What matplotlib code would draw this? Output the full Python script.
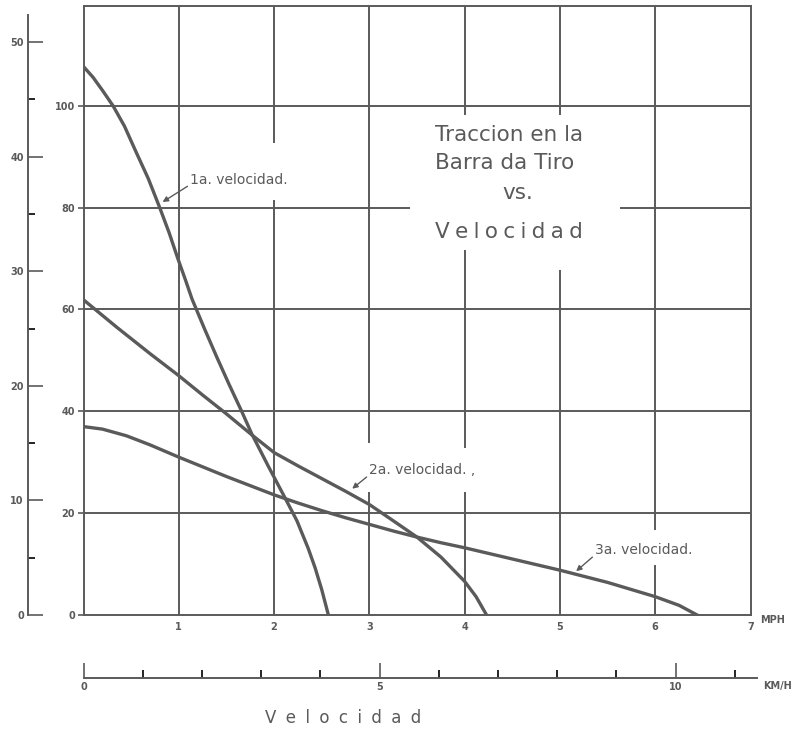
import numpy as np
import matplotlib.pyplot as plt

# Traccion en la barra de tiro vs velocidad (three gears)
ink = '#5a5a5a'

v1 = [0, 0.1, 0.2, 0.31, 0.43, 0.55, 0.68, 0.80, 0.90, 0.99, 1.07, 1.14, 1.27, 1.40,
      1.53, 1.66, 1.765, 1.94, 2.115, 2.24, 2.36, 2.43, 2.50, 2.57]
f1 = [107.7, 105.6, 103.0, 100, 96, 91, 85.7, 80, 75, 70, 65.8, 62, 56.2, 50.6,
      45.2, 40, 35.6, 29.2, 23, 18.5, 13, 9.3, 5, 0]

v2 = [0, 0.35, 0.70, 1.0, 1.25, 1.5, 1.765, 2.0, 2.25, 2.5, 2.75, 3.0, 3.22, 3.5,
      3.75, 4.0, 4.12, 4.23]
f2 = [61.9, 56.5, 51.3, 47, 43.2, 39.5, 35.4, 31.9, 29.3, 26.8, 24.3, 21.7, 18.9, 15.3,
      11.4, 6.6, 3.6, 0]

v3 = [0, 0.2, 0.45, 0.7, 1.0, 1.25, 1.5, 1.75, 2.0, 2.25, 2.5, 2.75, 3.0, 3.25, 3.5,
      3.75, 4.0, 4.5, 5.0, 5.5, 6.0, 6.25, 6.44]
f3 = [37, 36.5, 35.2, 33.4, 31, 29.1, 27.2, 25.4, 23.6, 22, 20.5, 19.1, 17.8, 16.5, 15.3,
      14.2, 13.2, 11, 8.8, 6.4, 3.6, 1.9, 0]

labels = ['1a. velocidad.', '2a. velocidad. ,', '3a. velocidad.']
label_pos = [(1.12, 85.5), (3.0, 28.5), (5.37, 12.8)]
arrow_tip = [(0.83, 81.1), (2.82, 24.8), (5.17, 8.6)]

mph_ticks = [1, 2, 3, 4, 5, 6, 7]
y_ticks = [0, 20, 40, 60, 80, 100]
ton_ticks = [0, 10, 20, 30, 40, 50]
kmh_major = [0, 5, 10]
ymax = 119.6

# grid segments with the gaps left for the lettering
vgrid = {1: [(0, ymax)],
         2: [(0, 81.5), (92.7, ymax)],
         3: [(0, 24.2), (33.8, ymax)],
         4: [(0, 24.2), (32.8, 71.7), (98.2, ymax)],
         5: [(0, 67.8), (98.2, ymax)],
         6: [(0, 9.8), (16.7, ymax)]}
hgrid = {20: [(0, 7)], 40: [(0, 7)], 60: [(0, 7)],
         80: [(0, 3.43), (5.63, 7)], 100: [(0, 7)]}


def spaced(word, gap):
    return gap.join(word)


fig = plt.figure(figsize=(7.91, 7.30), dpi=100)
ax = fig.add_axes([83.5 / 791, 115 / 730, 667 / 791, 609 / 730])
ax.set_xlim(0, 7)
ax.set_ylim(0, ymax)

for x, segs in vgrid.items():
    for a, b in segs:
        ax.vlines(x, a, b, color=ink, lw=1.4)
for y, segs in hgrid.items():
    for a, b in segs:
        ax.hlines(y, a, b, color=ink, lw=1.4)

for v, f in [(v1, f1), (v2, f2), (v3, f3)]:
    ax.plot(v, f, color=ink, lw=2.4, solid_joinstyle='round')

for txt, pos, tip in zip(labels, label_pos, arrow_tip):
    ax.annotate(txt, xy=tip, xytext=pos, ha='left', va='center',
                fontsize=10, color=ink,
                arrowprops=dict(arrowstyle='-|>', color=ink, lw=1.0,
                                mutation_scale=8, shrinkA=0, shrinkB=0,
                                relpos=(0.0, 0.15)))

# title block
tkw = dict(fontsize=15.5, color=ink, va='center')
ax.text(3.69, (615 - 135) / 5.09, 'Traccion en la', ha='left', **tkw)
ax.text(3.69, (615 - 163) / 5.09, 'Barra da Tiro', ha='left', **tkw)
ax.text(4.56, (615 - 193) / 5.09, 'vs.', ha='center', **tkw)
ax.text(3.69, (615 - 232) / 5.09, spaced('Velocidad', '\u2005'), ha='left', **tkw)

for s in ax.spines.values():
    s.set_color(ink)
    s.set_linewidth(1.4)

ax.set_xticks(mph_ticks)
ax.set_xticklabels([str(t) for t in mph_ticks], fontweight='bold')
ax.tick_params(axis='x', length=0, pad=5, labelsize=7, colors=ink)
ax.set_yticks(y_ticks)
ax.set_yticklabels([str(t) for t in y_ticks], fontweight='bold')
ax.tick_params(axis='y', length=4, width=1.2, pad=2, labelsize=7, colors=ink)

# left scale
sec = ax.secondary_yaxis(-0.0832, functions=(lambda y: y / 2.25, lambda y: y * 2.25))
sec.set_yticks(ton_ticks)
sec.set_yticklabels([str(t) for t in ton_ticks], fontweight='bold')
sec.set_yticks([5, 15, 25, 35, 45], minor=True)
sec.tick_params(axis='y', which='major', direction='in', length=11, width=1.2,
                labelsize=7, colors=ink, pad=3)
sec.tick_params(axis='y', which='minor', direction='in', length=5, width=1.2)
sec.spines['left'].set_bounds(0, 52.4)
sec.spines['left'].set_color(ink)
sec.spines['left'].set_linewidth(1.4)

# km/h scale
kx = ax.secondary_xaxis(-0.1034, functions=(lambda x: x * 1.6093, lambda x: x / 1.6093))
kx.set_xticks(kmh_major)
kx.set_xticklabels([str(t) for t in kmh_major], fontweight='bold')
kx.set_xticks(list(range(12)), minor=True)
kx.tick_params(axis='x', which='major', direction='in', length=11, width=1.2,
               labelsize=7, colors=ink, pad=3)
kx.tick_params(axis='x', which='minor', direction='in', length=6, width=1.2)
kx.spines['bottom'].set_bounds(0, 11.38)
kx.spines['bottom'].set_color(ink)
kx.spines['bottom'].set_linewidth(1.4)

fig.text(760 / 791, 1 - 620 / 730, 'MPH', fontsize=7, color=ink, va='center', weight='bold')
fig.text(763 / 791, 1 - 686 / 730, 'KM/H', fontsize=7, color=ink, va='center', weight='bold')
fig.text(343 / 791, 1 - 718 / 730, spaced('Velocidad', ' \u2005'), fontsize=12, color=ink,
         ha='center', va='center')

fig.savefig('out.png', dpi=100)
